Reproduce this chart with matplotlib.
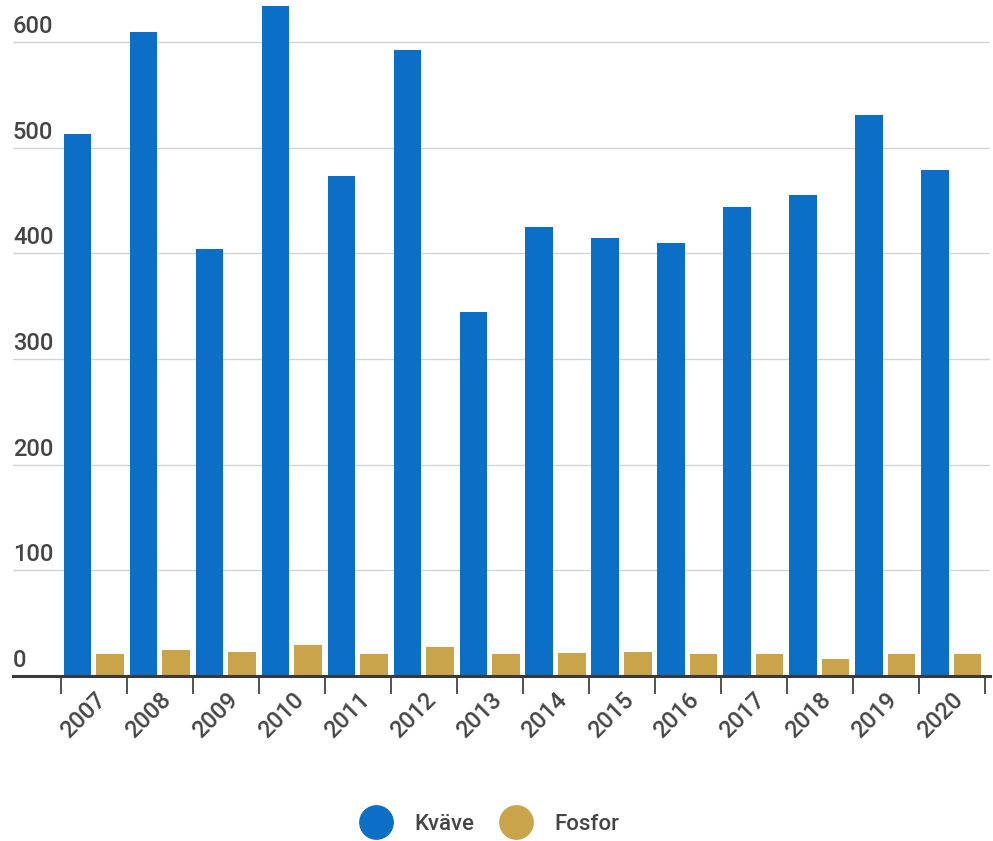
import matplotlib
matplotlib.use("Agg")
from matplotlib import pyplot as plt
from matplotlib.lines import Line2D
import matplotlib.transforms as mtransforms
import numpy as np

years = ["2007", "2008", "2009", "2010", "2011", "2012", "2013",
         "2014", "2015", "2016", "2017", "2018", "2019", "2020"]
kvave = [513, 610, 404, 634, 473, 593, 345, 425, 415, 410, 444, 455, 531, 479]
fosfor = [21, 25, 23, 29, 21, 27, 21, 22, 23, 21, 21, 16, 21, 21]

BLUE = "#0a6fc5"
GOLD = "#c9a44a"
TEXT = "#454545"

plt.rcParams['font.family'] = ['Roboto', 'DejaVu Sans']
plt.rcParams['font.weight'] = 'medium'

fig = plt.figure(figsize=(9.93, 8.41), dpi=100)
ax = fig.add_axes([13/993, 165/841, 977/993, 676/841])

x = np.arange(len(years))
w = 0.42
ax.bar(x - 0.25, kvave, width=w, color=BLUE, zorder=3)
ax.bar(x + 0.24, fosfor, width=w, color=GOLD, zorder=3)

ax.set_xlim(-1.227, 13.58)
ax.set_ylim(0, 640)

# y axis: labels inside, above the gridlines
ax.set_yticks([0, 100, 200, 300, 400, 500, 600])
ax.yaxis.grid(True, color="#d4d4d4", linewidth=1, zorder=0)
ax.tick_params(axis='y', length=0, pad=0, labelsize=17, labelcolor=TEXT)
offset = mtransforms.ScaledTranslation(0, 3/72, fig.dpi_scale_trans)
for lab in ax.get_yticklabels():
	lab.set_horizontalalignment('left')
	lab.set_verticalalignment('bottom')
	lab.set_transform(lab.get_transform() + offset)

# x axis: labels at group centres, ticks between groups
ax.set_xticks(x)
ax.set_xticklabels(years, rotation=45, ha='right', rotation_mode='anchor')
ax.set_xticks(np.arange(-0.5, len(years), 1), minor=True)
ax.tick_params(axis='x', which='major', length=0, pad=9, labelsize=17, labelcolor=TEXT)
ax.tick_params(axis='x', which='minor', length=13, width=1.3, color="#444444")

for s in ['top', 'right', 'left']:
	ax.spines[s].set_visible(False)
ax.spines['bottom'].set_color("#3a3a3a")
ax.spines['bottom'].set_linewidth(2.2)
ax.spines['bottom'].set_zorder(4)

handles = [
	Line2D([], [], marker='o', linestyle='', markersize=24, color=BLUE, label="Kväve"),
	Line2D([], [], marker='o', linestyle='', markersize=24, color=GOLD, label="Fosfor"),
]
leg = fig.legend(handles=handles, loc='center', bbox_to_anchor=(0.49, 0.02),
	ncol=2, frameon=False, fontsize=16, handletextpad=0.7, columnspacing=0.9)
for t in leg.get_texts():
	t.set_color(TEXT)

fig.savefig("out.png", dpi=100)
